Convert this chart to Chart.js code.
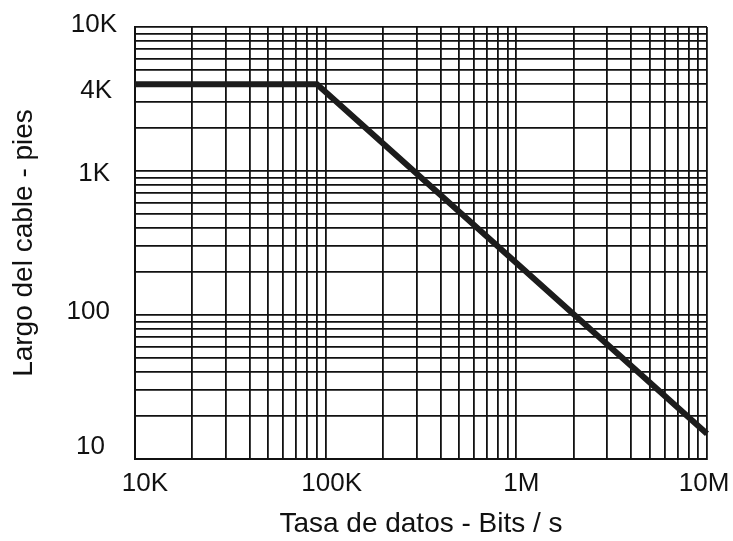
<!DOCTYPE html>
<html>
<head>
<meta charset="utf-8">
<title>Largo del cable vs. tasa de datos</title>
<script src="https://cdn.jsdelivr.net/npm/chart.js@4/dist/chart.umd.min.js"></script>
<style>
  html, body { margin: 0; padding: 0; background: #ffffff; }
  #wrap { width: 733px; height: 541px; }
</style>
</head>
<body>
<div id="wrap"><canvas id="chart" width="733" height="541"></canvas></div>
<script>
// Data rate (bits/s) and the maximum cable length (feet) at that rate
const dataRate    = [10000, 90000, 10000000];
const cableLength = [4000, 4000, 15];

// Labelled ticks on each axis
const xLabelValues = [10000, 100000, 1000000, 10000000];
const xLabelTexts  = ['10K', '100K', '1M', '10M'];
const yLabelValues = [10, 100, 1000, 4000, 10000];
const yLabelTexts  = ['10', '100', '1K', '4K', '10K'];

// Hand-set nudges [dx, dy] for each tick label, keyed by its text
const labelNudge = {
  x: { '10K': [10, 0], '100K': [6, 0], '1M': [5, 0], '10M': [-3, 0] },
  y: { '10': [-8, -12], '100': [-3, -3], '1K': [-3, 3], '4K': [-1, 7], '10K': [4, -2] }
};

// Log-paper grid: lines at 1..9 of every decade between the limits
const gridSteps = [1, 2, 3, 4, 5, 6, 7, 8, 9];
function decadeGrid(lo, hi) {
  const out = [];
  for (let d = lo; d < hi; d *= 10) gridSteps.forEach(s => out.push(s * d));
  out.push(hi);
  return out;
}
const xGridValues = decadeGrid(10000, 10000000);
const yGridValues = decadeGrid(10, 10000);

function labelFor(values, texts) {
  return v => {
    const i = values.findIndex(t => Math.abs(t - v) / t < 1e-6);
    return i >= 0 ? texts[i] : '';
  };
}

// Fixed axis band size; edge labels may overhang without shrinking the plot
function fixBand(prop, size) {
  return s => {
    s[prop] = size;
    s.paddingTop = 0; s.paddingBottom = 0;
    s.paddingLeft = 0; s.paddingRight = 0;
  };
}

// Shift the cached tick-label positions before the scales paint them
const nudgeLabels = {
  id: 'nudgeLabels',
  beforeDraw(chart) {
    Object.keys(labelNudge).forEach(id => {
      const scale = chart.scales[id];
      const items = scale.getLabelItems();
      if (items._nudged) return;
      items.forEach(it => {
        const d = labelNudge[id][it.label];
        if (d) {
          it.options.translation[0] += d[0];
          it.options.translation[1] += d[1];
        }
      });
      items._nudged = true;
    });
  }
};

const ink = '#111111';
const fontFamily = '"Liberation Sans", Arial, sans-serif';

new Chart(document.getElementById('chart'), {
  type: 'scatter',
  data: {
    datasets: [{
      data: dataRate.map((x, i) => ({ x, y: cableLength[i] })),
      showLine: true,
      borderColor: '#1c1c1c',
      borderWidth: 6,
      pointRadius: 0,
      tension: 0,
      fill: false,
      clip: false
    }]
  },
  plugins: [nudgeLabels],
  options: {
    responsive: false,
    animation: false,
    events: [],
    layout: { padding: { left: 0, right: 26, top: 27, bottom: 0 } },
    plugins: { legend: { display: false }, tooltip: { enabled: false } },
    scales: {
      x: {
        type: 'logarithmic',
        min: 10000,
        max: 10000000,
        afterBuildTicks: s => { s.ticks = xGridValues.map(v => ({ value: v })); },
        afterFit: fixBand('height', 82),
        grid: { color: ink, lineWidth: 1.8, drawTicks: false },
        border: { display: true, color: ink, width: 2 },
        ticks: {
          autoSkip: false,
          maxRotation: 0,
          padding: 9,
          color: ink,
          font: { family: fontFamily, size: 26 },
          callback: labelFor(xLabelValues, xLabelTexts)
        },
        title: {
          display: true,
          text: 'Tasa de datos - Bits / s',
          color: ink,
          font: { family: fontFamily, size: 28 },
          padding: { top: 0, bottom: 0 }
        }
      },
      y: {
        type: 'logarithmic',
        min: 10,
        max: 10000,
        afterBuildTicks: s => { s.ticks = yGridValues.map(v => ({ value: v })); },
        afterFit: fixBand('width', 135),
        grid: { color: ink, lineWidth: 1.8, drawTicks: false },
        border: { display: true, color: ink, width: 2 },
        ticks: {
          autoSkip: false,
          padding: 22,
          color: ink,
          font: { family: fontFamily, size: 26 },
          callback: labelFor(yLabelValues, yLabelTexts)
        },
        title: {
          display: true,
          text: 'Largo del cable - pies',
          color: ink,
          font: { family: fontFamily, size: 28 },
          padding: { top: 7, bottom: 0 }
        }
      }
    }
  }
});
</script>
</body>
</html>
